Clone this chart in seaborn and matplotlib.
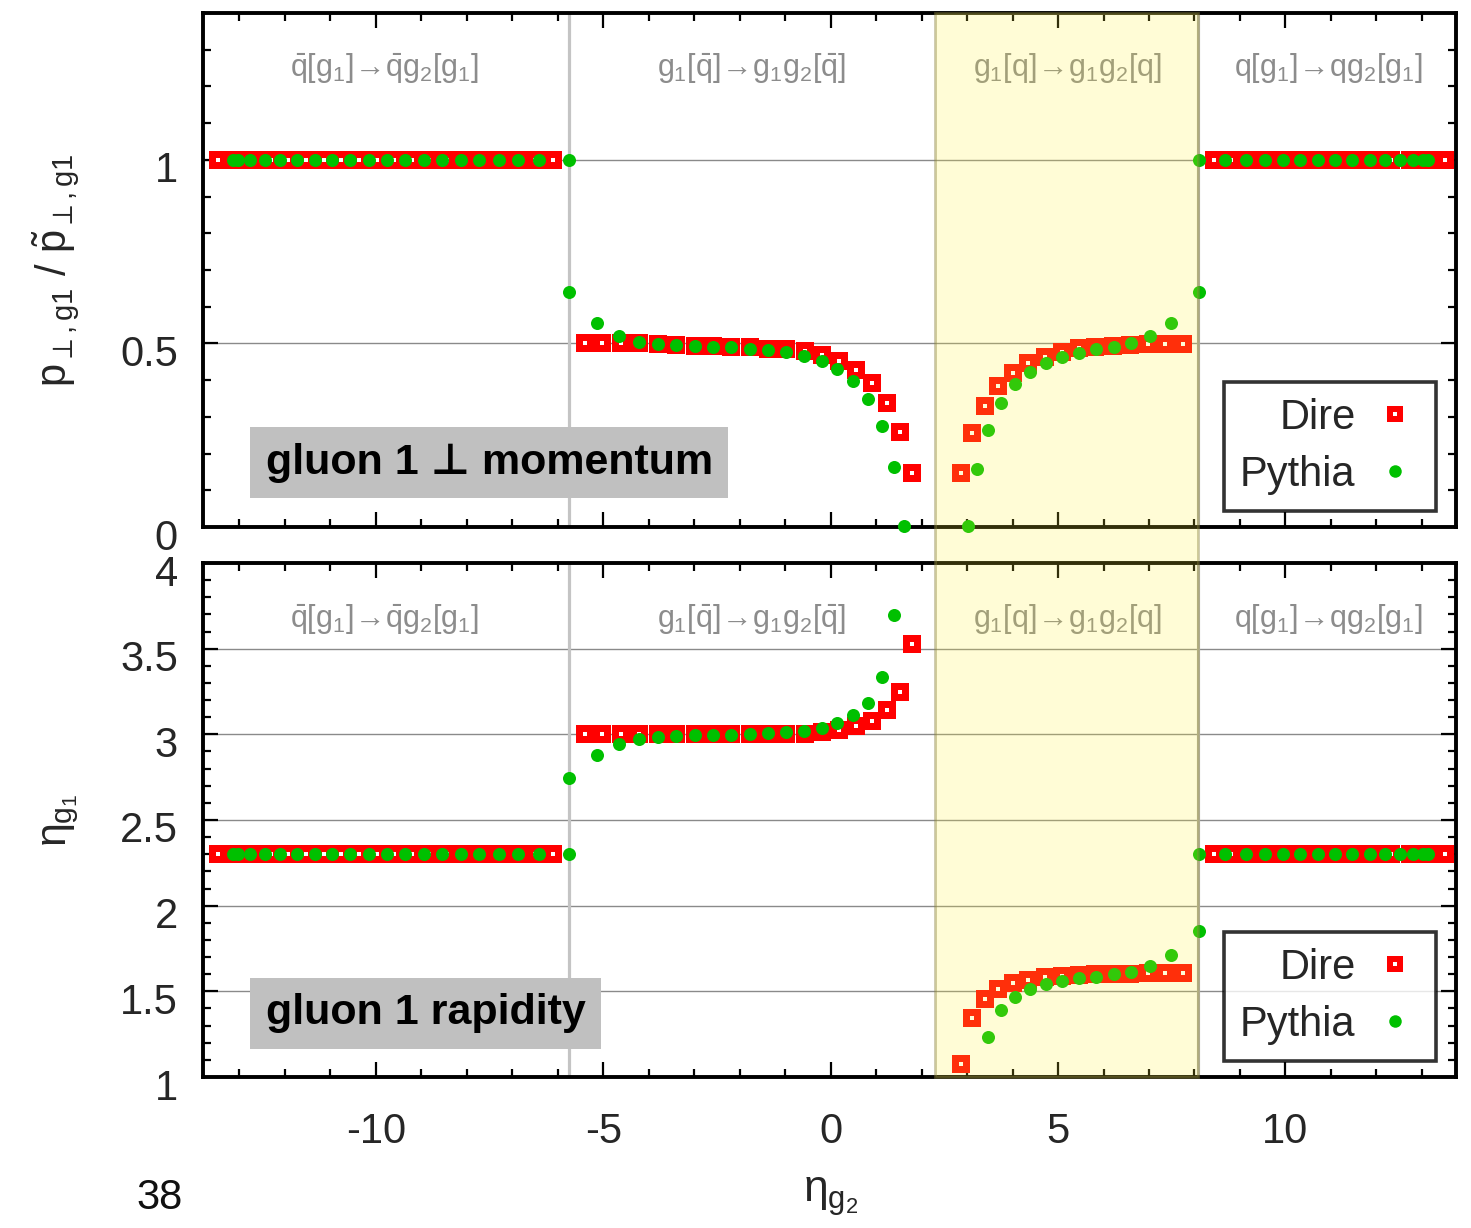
import numpy as np
import pandas as pd
import matplotlib
matplotlib.use("Agg")
import matplotlib.pyplot as plt
import matplotlib.transforms as mtrans
import seaborn as sns
from matplotlib.lines import Line2D
from matplotlib.patches import Rectangle
from matplotlib.legend_handler import HandlerTuple
from matplotlib.ticker import MultipleLocator, FuncFormatter

nan = np.nan

# ---------------- data ----------------
dire_eta_g2 = [
    -13.48, -13.09, -12.70, -12.31, -11.93, -11.54, -11.15, -10.76, -10.37, -9.98,
    -9.59, -9.21, -8.82, -8.43, -8.04, -7.65, -7.26, -6.88, -6.49, -6.10,
    -5.40, -5.02, -4.61, -4.21, -3.80, -3.40, -2.99, -2.59, -2.19, -1.78,
    -1.38, -0.98, -0.57, -0.18, 0.18, 0.55, 0.90, 1.23, 1.52, 1.78,
    2.86, 3.10, 3.39, 3.69, 4.02, 4.35, 4.71, 5.08, 5.45, 5.81, 6.20, 6.59, 6.97, 7.36, 7.74,
    8.42, 8.81, 9.20, 9.59, 9.98, 10.37, 10.77, 11.16, 11.55, 11.94, 12.33, 12.73, 13.12, 13.51,
]
dire_pt_ratio = [
    1.0, 1.0, 1.0, 1.0, 1.0, 1.0, 1.0, 1.0, 1.0, 1.0,
    1.0, 1.0, 1.0, 1.0, 1.0, 1.0, 1.0, 1.0, 1.0, 1.0,
    0.500, 0.500, 0.500, 0.500, 0.499, 0.496, 0.494, 0.493, 0.491, 0.489,
    0.485, 0.484, 0.480, 0.469, 0.453, 0.428, 0.391, 0.337, 0.260, 0.148,
    0.146, 0.255, 0.330, 0.384, 0.420, 0.446, 0.464, 0.478, 0.487, 0.491, 0.494, 0.496, 0.498, 0.498, 0.499,
    1.0, 1.0, 1.0, 1.0, 1.0, 1.0, 1.0, 1.0, 1.0, 1.0, 1.0, 1.0, 1.0, 1.0,
]
dire_eta_g1 = [
    2.3, 2.3, 2.3, 2.3, 2.3, 2.3, 2.3, 2.3, 2.3, 2.3,
    2.3, 2.3, 2.3, 2.3, 2.3, 2.3, 2.3, 2.3, 2.3, 2.3,
    3.0, 3.0, 3.0, 3.0, 3.0, 3.0, 3.0, 3.0, 3.0, 3.0,
    3.0, 3.0, 3.002, 3.013, 3.025, 3.048, 3.078, 3.14, 3.247, 3.529,
    1.074, 1.346, 1.455, 1.511, 1.546, 1.566, 1.581, 1.589, 1.595, 1.599, 1.601, 1.603, 1.605, 1.605, 1.605,
    2.3, 2.3, 2.3, 2.3, 2.3, 2.3, 2.3, 2.3, 2.3, 2.3, 2.3, 2.3, 2.3, 2.3,
]

pythia_eta_g2 = [
    -13.13, -13.02, -12.76, -12.44, -12.10, -11.73, -11.34, -10.96, -10.56, -10.15,
    -9.75, -9.35, -8.94, -8.54, -8.13, -7.73, -7.29, -6.87, -6.41, -5.76,
    -5.76, -5.14, -4.65, -4.22, -3.80, -3.40, -2.99, -2.59, -2.19, -1.78,
    -1.38, -0.99, -0.59, -0.20, 0.14, 0.49, 0.82, 1.12, 1.39, 1.61,
    3.01, 3.22, 3.47, 3.74, 4.05, 4.38, 4.73, 5.08, 5.46, 5.83, 6.22, 6.60, 7.03, 7.48, 8.09,
    8.09, 8.68, 9.14, 9.56, 9.95, 10.33, 10.72, 11.10, 11.47, 11.85, 12.19, 12.51, 12.81, 13.03, 13.14,
]
pythia_pt_ratio = [
    1.0, 1.0, 1.0, 1.0, 1.0, 1.0, 1.0, 1.0, 1.0, 1.0,
    1.0, 1.0, 1.0, 1.0, 1.0, 1.0, 1.0, 1.0, 1.0, 1.0,
    0.641, 0.555, 0.520, 0.505, 0.499, 0.496, 0.493, 0.491, 0.489, 0.485,
    0.482, 0.476, 0.466, 0.452, 0.430, 0.398, 0.349, 0.275, 0.164, 0.003,
    0.003, 0.157, 0.264, 0.339, 0.390, 0.423, 0.448, 0.462, 0.475, 0.484, 0.491, 0.500, 0.519, 0.555, 0.640,
    1.0, 1.0, 1.0, 1.0, 1.0, 1.0, 1.0, 1.0, 1.0, 1.0, 1.0, 1.0, 1.0, 1.0, 1.0,
]
pythia_eta_g1 = [
    2.3, 2.3, 2.3, 2.3, 2.3, 2.3, 2.3, 2.3, 2.3, 2.3,
    2.3, 2.3, 2.3, 2.3, 2.3, 2.3, 2.3, 2.3, 2.3, 2.3,
    2.747, 2.882, 2.946, 2.971, 2.984, 2.990, 2.994, 2.996, 2.998, 3.002,
    3.006, 3.012, 3.022, 3.039, 3.066, 3.111, 3.185, 3.335, 3.698, nan,
    nan, nan, 1.235, 1.391, 1.469, 1.513, 1.542, 1.562, 1.576, 1.585, 1.599, 1.614, 1.647, 1.711, 1.853,
    2.3, 2.3, 2.3, 2.3, 2.3, 2.3, 2.3, 2.3, 2.3, 2.3, 2.3, 2.3, 2.3, 2.3, 2.3,
]

region_labels = [
    r"$\bar{q}[g_1]\!\rightarrow\!\bar{q}g_2[g_1]$",
    r"$g_1[\bar{q}]\!\rightarrow\!g_1g_2[\bar{q}]$",
    r"$g_1[q]\!\rightarrow\!g_1g_2[q]$",
    r"$q[g_1]\!\rightarrow\!qg_2[g_1]$",
]
region_boundaries = [-5.75, 8.08]
highlight_band = [2.29, 8.08]
series_names = ["Dire", "Pythia"]
panel_titles = ["gluon 1 \u22a5 momentum", "gluon 1 rapidity"]

# ---------------- style ----------------
sns.set_style("ticks")
plt.rcParams["font.family"] = ["Liberation Sans", "DejaVu Sans"]
plt.rcParams["mathtext.fontset"] = "custom"
plt.rcParams["mathtext.rm"] = "Liberation Sans"
plt.rcParams["mathtext.it"] = "Liberation Sans"
plt.rcParams["mathtext.bf"] = "Liberation Sans:bold"
plt.rcParams["axes.unicode_minus"] = False

RED = "#ff0000"
GREEN = "#00c000"

dire = pd.DataFrame({"eta_g2": dire_eta_g2, "pt": dire_pt_ratio, "eta_g1": dire_eta_g1})
pyth = pd.DataFrame({"eta_g2": pythia_eta_g2, "pt": pythia_pt_ratio, "eta_g1": pythia_eta_g1})

W, H = 1471, 1228
fig = plt.figure(figsize=(W / 100, H / 100), dpi=100)
fig.patch.set_facecolor("white")
L, R = 203, 1456
ax1 = fig.add_axes([L / W, 1 - 527 / H, (R - L) / W, (527 - 13) / H])
ax2 = fig.add_axes([L / W, 1 - 1077 / H, (R - L) / W, (1077 - 563) / H])

panels = [(ax1, "pt", (0, 1.4), 1.25), (ax2, "eta_g1", (1, 4), 3.676)]
label_x = [-9.8, -1.74, 5.2, 10.95]
ylab_shift = mtrans.ScaledTranslation(0, -7 / 100, fig.dpi_scale_trans)

for ax, col, ylim, ylab in panels:
    ax.set_xlim(-13.8, 13.75)
    ax.set_ylim(*ylim)
    ax.set_facecolor("white")
    for v in region_boundaries:
        ax.axvline(v, color="#c4c4c4", lw=2.3, zorder=1)
    ax.yaxis.grid(True, color="#8a8a8a", lw=1.0, zorder=0)
    ax.set_axisbelow(True)

    # Dire: red squares with white centre
    sns.scatterplot(data=dire, x="eta_g2", y=col, ax=ax, marker="s", s=150,
                    color=RED, linewidth=0, clip_on=False, zorder=3, legend=False)
    sns.scatterplot(data=dire, x="eta_g2", y=col, ax=ax, marker="s", s=9,
                    color="white", linewidth=0, clip_on=False, zorder=4, legend=False)
    # Pythia: green dots
    sns.scatterplot(data=pyth, x="eta_g2", y=col, ax=ax, marker="o", s=88,
                    color=GREEN, linewidth=0, clip_on=False, zorder=5, legend=False)

    for lab, lx in zip(region_labels, label_x):
        ax.text(lx, ylab, lab, ha="center", va="center", fontsize=22, color="#8c8c8c", zorder=6)

    ax.xaxis.set_major_locator(MultipleLocator(5))
    ax.xaxis.set_minor_locator(MultipleLocator(1))
    ax.yaxis.set_major_locator(MultipleLocator(0.5))
    ax.yaxis.set_minor_locator(MultipleLocator(0.1))
    ax.yaxis.set_major_formatter(FuncFormatter(lambda v, p: f"{v:g}"))
    ax.xaxis.set_major_formatter(FuncFormatter(lambda v, p: f"{v:g}"))
    ax.tick_params(which="both", direction="in", top=True, right=True, labelsize=30,
                   color="black")
    ax.tick_params(which="major", length=11, width=1.6)
    ax.tick_params(which="minor", length=6, width=1.6)
    ax.tick_params(axis="y", pad=18)
    ax.tick_params(axis="x", pad=25)
    for sp in ax.spines.values():
        sp.set_linewidth(2.8)
        sp.set_color("black")
        sp.set_zorder(2.5)

    # legend (text first, marker after)
    h_dire = (Line2D([], [], ls="none", marker="s", ms=11, mfc=RED, mec=RED, mew=0),
              Line2D([], [], ls="none", marker="s", ms=3, mfc="white", mec="white", mew=0))
    h_pyth = Line2D([], [], ls="none", marker="o", ms=9, mfc=GREEN, mec=GREEN, mew=0)
    leg = ax.legend([h_dire, h_pyth], series_names, loc="lower right",
                    bbox_to_anchor=(0.984, 0.032), borderaxespad=0, markerfirst=False,
                    fontsize=30, frameon=True, fancybox=False, handlelength=1.2,
                    handletextpad=0.35, labelspacing=0.4, borderpad=0.38,
                    handler_map={tuple: HandlerTuple(ndivide=1)})
    leg.get_frame().set_edgecolor("black")
    leg.get_frame().set_linewidth(2.6)
    for t in leg.get_texts():
        t.set_ha("right")
    ax.set_xlabel("")
    ax.set_ylabel("")

ax1.tick_params(labelbottom=False)

# panel titles in grey boxes
ax1.text(-12.42, 0.175, panel_titles[0], ha="left", va="center", fontsize=31,
         fontweight="bold", color="black", zorder=7,
         bbox=dict(boxstyle="square,pad=0.36", facecolor="#c0c0c0", edgecolor="none"))
ax2.text(-12.42, 1.373, panel_titles[1], ha="left", va="center", fontsize=31,
         fontweight="bold", color="black", zorder=7,
         bbox=dict(boxstyle="square,pad=0.36", facecolor="#c0c0c0", edgecolor="none"))

# axis labels
ax1.set_ylabel(r"$p_{\perp,g1}\ /\ \tilde{p}_{\perp,g1}$", fontsize=30)
ax1.yaxis.set_label_coords(-0.097, 0.5)
ax2.set_ylabel(r"$\eta_{g_1}$", fontsize=31)
ax2.yaxis.set_label_coords(-0.097, 0.5)
ax2.set_xlabel(r"$\eta_{g_2}$", fontsize=32)
ax2.xaxis.set_label_coords(0.501, -0.19)

# tick labels sit slightly below their ticks, as in the reference
for ax in (ax1, ax2):
    for lab in ax.get_yticklabels():
        lab.set_transform(lab.get_transform() + ylab_shift)

# highlighted band spanning both panels (drawn on top, semi-transparent)
inv = fig.transFigure.inverted()
x0f = inv.transform(ax1.transData.transform((highlight_band[0], 0)))[0]
x1f = inv.transform(ax1.transData.transform((highlight_band[1], 0)))[0]
y0f = ax2.get_position().y0
y1f = ax1.get_position().y1
band = Rectangle((x0f, y0f), x1f - x0f, y1f - y0f, transform=fig.transFigure,
                 facecolor=(1.0, 0.94, 0.2, 0.2), edgecolor=(0.55, 0.52, 0.25, 0.45),
                 lw=2.0, zorder=10)
fig.add_artist(band)

fig.text(160 / W, 1 - 1198 / H, "38", ha="center", va="center", fontsize=30,
         color="#111111", family=["Liberation Sans"], fontweight="normal")

fig.savefig("out.png", dpi=100, facecolor="white")
